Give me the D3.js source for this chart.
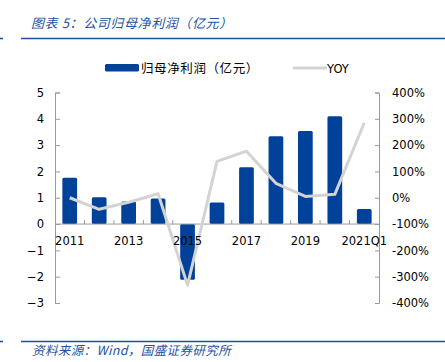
<!DOCTYPE html>
<html><head><meta charset="utf-8">
<script src="https://cdn.jsdelivr.net/npm/d3@7"></script>
<style>
html,body{margin:0;padding:0;background:#fff;}
svg{display:block;}
</style></head>
<body>
<script>
const categories = ["2011","2012","2013","2014","2015","2016","2017","2018","2019","2020","2021Q1"];
const profit = [1.76, 1.02, 0.86, 0.97, -2.12, 0.82, 2.16, 3.34, 3.54, 4.10, 0.57];
const yoy = [0.00, -0.44, -0.17, 0.15, -3.32, 1.38, 1.77, 0.55, 0.05, 0.13, 2.85];
const shownLabels = ["2011","2013","2015","2017","2019","2021Q1"];
const leftTicks = [-3,-2,-1,0,1,2,3,4,5];
const rightTicks = [-4,-3,-2,-1,0,1,2,3,4];
const titleText = "图表 5：公司归母净利润（亿元）";
const sourceText = "资料来源：Wind，国盛证券研究所";
const legendBar = "归母净利润（亿元）";
const legendLine = "YOY";

const W = 445, H = 362;
const svg = d3.select("body").append("svg").attr("width", W).attr("height", H);
const L = 55, R = 379, T = 92.5, B = 303;
const blue = "#00419a", grey = "#d3d3d3", axisC = "#9a9a9a";
const font = "'DejaVu Sans', Verdana, sans-serif";
const cjk = "'Noto Sans CJK SC', sans-serif";

// title
svg.append("text").attr("x", 31).attr("y", 28).attr("fill", "#2352a3")
  .attr("font-family", cjk).attr("font-size", 13).attr("font-style", "italic")
  .attr("letter-spacing", 0.6).text(titleText);
svg.append("line").attr("x1", 21).attr("x2", W).attr("y1", 38.5).attr("y2", 38.5)
  .attr("stroke", "#1f4ea3").attr("stroke-width", 1.6);
svg.append("line").attr("x1", 0).attr("x2", 3).attr("y1", 38.5).attr("y2", 38.5)
  .attr("stroke", "#1f4ea3").attr("stroke-width", 1.6);

// footer
svg.append("line").attr("x1", 21).attr("x2", W).attr("y1", 341.5).attr("y2", 341.5)
  .attr("stroke", "#1f4ea3").attr("stroke-width", 1.6);
svg.append("line").attr("x1", 0).attr("x2", 3).attr("y1", 341.5).attr("y2", 341.5)
  .attr("stroke", "#1f4ea3").attr("stroke-width", 1.6);
svg.append("text").attr("x", 32).attr("y", 355).attr("fill", "#2352a3")
  .attr("font-family", cjk).attr("font-size", 12.5).attr("font-style", "italic")
  .attr("letter-spacing", 0.4).text(sourceText);

const x = d3.scaleBand().domain(categories).range([L, R]).paddingInner(0.5).paddingOuter(0.25);
const xb = d3.scaleBand().domain(categories).range([L, R]);
const yL = d3.scaleLinear().domain([-3, 5]).range([B, T]);
const yR = d3.scaleLinear().domain([-4, 4]).range([B, T]);

// bars
svg.append("g").selectAll("rect").data(categories).join("rect")
  .attr("x", d => x(d))
  .attr("width", x.bandwidth())
  .attr("y", (d, i) => Math.min(yL(profit[i]), yL(0)))
  .attr("height", (d, i) => Math.abs(yL(profit[i]) - yL(0)))
  .attr("rx", 1.5)
  .attr("fill", blue);

// left axis
const gl = svg.append("g").attr("transform", `translate(${L},0)`)
  .call(d3.axisLeft(yL).tickValues(leftTicks).tickSize(-5).tickPadding(11).tickFormat(d3.format("d")));
// right axis
const gr = svg.append("g").attr("transform", `translate(${R},0)`)
  .call(d3.axisRight(yR).tickValues(rightTicks).tickSize(-4).tickPadding(13).tickFormat(d => Math.round(d*100) + "%"));
[gl, gr].forEach(g => {
  g.select(".domain").attr("stroke", axisC);
  g.selectAll(".tick line").attr("stroke", axisC);
  g.selectAll("text").attr("font-family", font).attr("font-size", 11.5).attr("fill", "#000");
});

// x axis on zero line
const gx = svg.append("g").attr("transform", `translate(0,${yL(0)})`);
gx.append("line").attr("x1", L).attr("x2", R).attr("stroke", axisC);
gx.selectAll("line.b").data(categories.slice(1)).join("line").attr("class", "b")
  .attr("x1", d => xb(d)).attr("x2", d => xb(d)).attr("y1", 0).attr("y2", -4).attr("stroke", axisC);

// YOY line
const line = d3.line().x((d, i) => xb(categories[i]) + xb.bandwidth() / 2).y(d => yR(d));
svg.append("path").datum(yoy).attr("d", line).attr("fill", "none")
  .attr("stroke", grey).attr("stroke-width", 3).attr("stroke-linejoin", "round");

// x labels on top
svg.append("g").attr("transform", `translate(0,${yL(0)})`)
  .selectAll("text").data(shownLabels).join("text")
  .attr("x", d => xb(d) + xb.bandwidth() / 2).attr("y", 21)
  .attr("text-anchor", "middle").attr("font-family", font).attr("font-size", 11.5)
  .text(d => d);

// legend
svg.append("rect").attr("x", 105).attr("y", 64).attr("width", 34).attr("height", 7.5).attr("rx", 1.5).attr("fill", blue);
svg.append("text").attr("x", 141).attr("y", 72.5).attr("font-family", cjk).attr("font-size", 12.5)
  .attr("letter-spacing", 0.6).text(legendBar);
svg.append("line").attr("x1", 293).attr("x2", 327).attr("y1", 68).attr("y2", 68).attr("stroke", grey).attr("stroke-width", 3);
svg.append("text").attr("x", 327).attr("y", 72.5).attr("font-family", font).attr("font-size", 11.5).text(legendLine);
</script>
</body></html>
